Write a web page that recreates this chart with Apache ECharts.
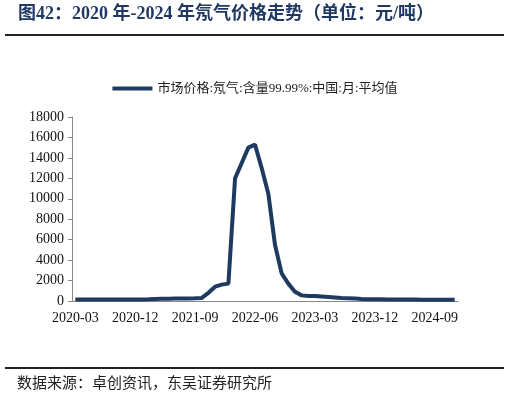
<!DOCTYPE html>
<html>
<head>
<meta charset="utf-8">
<script src="https://cdn.jsdelivr.net/npm/echarts@6/dist/echarts.min.js"></script>
<style>
  html, body { margin: 0; padding: 0; background: #fff; }
  #chart { width: 510px; height: 403px; }
</style>
</head>
<body>
<div id="chart"></div>
<script>
const months = []
for (let y = 2020; y <= 2024; y++) {
  for (let m = 1; m <= 12; m++) {
    if (y === 2020 && m < 3) continue
    months.push(y + '-' + String(m).padStart(2, '0'))
  }
}

const neonPrice = [
  150, 150, 150, 150, 150, 150, 150, 150, 150, 150,
  150, 170, 200, 220, 230, 240, 240, 250, 260, 300,
  800, 1400, 1600, 1700, 12000, 13500, 15000, 15300, 13000, 10500,
  5500, 2700, 1700, 900, 550, 500, 500, 450, 400, 350,
  300, 280, 250, 200, 180, 170, 160, 150, 150, 140,
  140, 140, 130, 130, 130, 130, 130, 130
]

const serif = '"Liberation Serif", "Times New Roman", "Noto Sans CJK SC", serif'

const chart = echarts.init(document.getElementById('chart'))
chart.setOption({
  animation: false,
  graphic: [
    { type: 'text', left: 18, top: 5, style: { text: '图42：2020 年-2024 年氖气价格走势（单位：元/吨）', font: 'bold 18px ' + serif, fill: '#1f3864' } },
    { type: 'line', shape: { x1: 5, y1: 35, x2: 504, y2: 35 }, style: { stroke: '#222', lineWidth: 2 } },
    { type: 'line', shape: { x1: 5, y1: 368, x2: 504, y2: 368 }, style: { stroke: '#222', lineWidth: 2 } },
    { type: 'text', left: 17, top: 377, style: { text: '数据来源：卓创资讯，东吴证券研究所', font: '15px ' + serif, fill: '#222' } }
  ],
  legend: {
    top: 77, left: 'center',
    itemWidth: 40, itemHeight: 4,
    textStyle: { fontFamily: serif, fontSize: 13, color: '#222' },
    icon: 'rect'
  },
  grid: { left: 72, right: 52, top: 117, bottom: 102 },
  xAxis: {
    type: 'category', data: months, boundaryGap: true,
    axisLine: { lineStyle: { color: '#888' } },
    axisTick: { inside: true, interval: 0, length: 5, lineStyle: { color: '#888' } },
    axisLabel: { interval: 8, color: '#111', fontFamily: serif, fontSize: 14, margin: 10 }
  },
  yAxis: {
    type: 'value', min: 0, max: 18000, interval: 2000,
    splitLine: { show: false },
    axisLine: { show: true, lineStyle: { color: '#888' } },
    axisTick: { show: true, length: 4, lineStyle: { color: '#888' } },
    axisLabel: { color: '#111', fontFamily: serif, fontSize: 14, formatter: v => String(v) }
  },
  series: [{
    name: '市场价格:氖气:含量99.99%:中国:月:平均值',
    type: 'line', data: neonPrice, symbol: 'none',
    lineStyle: { color: '#1f3a5f', width: 4 },
    itemStyle: { color: '#1f3a5f' }
  }]
})
</script>
</body>
</html>
